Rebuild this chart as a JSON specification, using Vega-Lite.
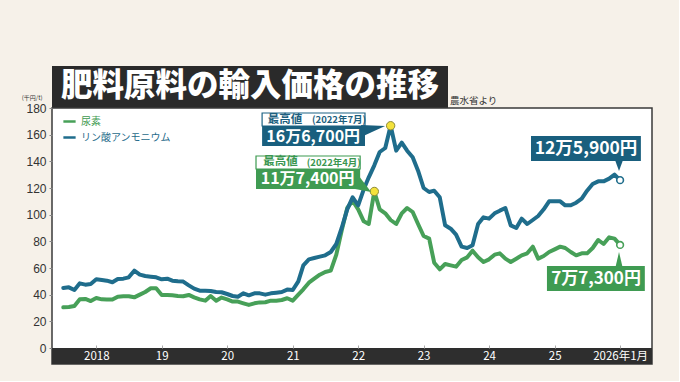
{
  "$schema": "https://vega.github.io/schema/vega-lite/v6.json",
  "background": "#f6f1e9",
  "padding": {"left": 20, "top": 66, "right": 26, "bottom": 16},
  "bounds": "flush",
  "spacing": 0,
  "config": {"font": "Noto Sans CJK JP", "axis": {"labelOverlap": false}, "axisY": {"labelOverlap": false, "labelSeparation": -40, "labelBound": false}},
  "resolve": {"scale": {"color": "independent", "stroke": "independent"}, "legend": {"color": "independent", "stroke": "independent"}},
  "vconcat": [
    {
      "width": 396,
      "height": 42,
      "view": {"fill": "#2a2a2a", "stroke": null},
      "data": {"values": [{}]},
      "layer": [
        {
          "mark": {"type": "text", "text": "肥料原料の輸入価格の推移", "color": "white", "font": "Noto Sans CJK JP", "fontSize": 31.5, "fontWeight": 900, "align": "center", "baseline": "middle"}
        },
        {
          "mark": {"type": "text", "text": "農水省より", "color": "#333333", "font": "Noto Sans CJK JP", "fontSize": 9.5, "align": "left", "baseline": "middle"},
          "encoding": {
            "x": {"datum": 398, "type": "quantitative", "scale": {"domain": [0, 396], "nice": false, "zero": false}, "axis": null},
            "y": {"datum": 7, "type": "quantitative", "scale": {"domain": [0, 42], "nice": false}, "axis": null}
          }
        }
      ]
    },
    {
      "width": 600,
      "height": 256,
      "view": {"fill": "white", "stroke": "#3a3a3a", "strokeWidth": 1.5},
      "data": {"values": [
        {"date": "2017-07-01", "尿素": 30.5, "リン酸アンモニウム": 45},
        {"date": "2017-08-01", "尿素": 30.8, "リン酸アンモニウム": 45.5},
        {"date": "2017-09-01", "尿素": 31.5, "リン酸アンモニウム": 43.5},
        {"date": "2017-10-01", "尿素": 36.5, "リン酸アンモニウム": 48.5},
        {"date": "2017-11-01", "尿素": 36.8, "リン酸アンモニウム": 47.5},
        {"date": "2017-12-01", "尿素": 35.2, "リン酸アンモニウム": 48},
        {"date": "2018-01-01", "尿素": 37.5, "リン酸アンモニウム": 51.5},
        {"date": "2018-02-01", "尿素": 36.5, "リン酸アンモニウム": 51},
        {"date": "2018-03-01", "尿素": 36.3, "リン酸アンモニウム": 50.5},
        {"date": "2018-04-01", "尿素": 36.3, "リン酸アンモニウム": 49.3},
        {"date": "2018-05-01", "尿素": 38.5, "リン酸アンモニウム": 51.8},
        {"date": "2018-06-01", "尿素": 38.8, "リン酸アンモニウム": 52},
        {"date": "2018-07-01", "尿素": 38.8, "リン酸アンモニウム": 53},
        {"date": "2018-08-01", "尿素": 38, "リン酸アンモニウム": 58},
        {"date": "2018-09-01", "尿素": 40, "リン酸アンモニウム": 55},
        {"date": "2018-10-01", "尿素": 42, "リン酸アンモニウム": 54},
        {"date": "2018-11-01", "尿素": 44.8, "リン酸アンモニウム": 53.5},
        {"date": "2018-12-01", "尿素": 44.8, "リン酸アンモニウム": 53},
        {"date": "2019-01-01", "尿素": 39.8, "リン酸アンモニウム": 51.5},
        {"date": "2019-02-01", "尿素": 39.8, "リン酸アンモニウム": 52},
        {"date": "2019-03-01", "尿素": 39.5, "リン酸アンモニウム": 50.5},
        {"date": "2019-04-01", "尿素": 39, "リン酸アンモニウム": 50},
        {"date": "2019-05-01", "尿素": 38.8, "リン酸アンモニウム": 49.8},
        {"date": "2019-06-01", "尿素": 39.8, "リン酸アンモニウム": 47},
        {"date": "2019-07-01", "尿素": 38, "リン酸アンモニウム": 44.5},
        {"date": "2019-08-01", "尿素": 36.5, "リン酸アンモニウム": 43},
        {"date": "2019-09-01", "尿素": 35.5, "リン酸アンモニウム": 43},
        {"date": "2019-10-01", "尿素": 39, "リン酸アンモニウム": 42.7},
        {"date": "2019-11-01", "尿素": 35.5, "リン酸アンモニウム": 42},
        {"date": "2019-12-01", "尿素": 37.8, "リン酸アンモニウム": 41.8},
        {"date": "2020-01-01", "尿素": 36.5, "リン酸アンモニウム": 40.5},
        {"date": "2020-02-01", "尿素": 34.8, "リン酸アンモニウム": 39},
        {"date": "2020-03-01", "尿素": 34.8, "リン酸アンモニウム": 38.5},
        {"date": "2020-04-01", "尿素": 33.5, "リン酸アンモニウム": 41},
        {"date": "2020-05-01", "尿素": 32.3, "リン酸アンモニウム": 39.5},
        {"date": "2020-06-01", "尿素": 33.5, "リン酸アンモニウム": 41},
        {"date": "2020-07-01", "尿素": 34.2, "リン酸アンモニウム": 41},
        {"date": "2020-08-01", "尿素": 34.3, "リン酸アンモニウム": 40},
        {"date": "2020-09-01", "尿素": 35.5, "リン酸アンモニウム": 41},
        {"date": "2020-10-01", "尿素": 35.5, "リン酸アンモニウム": 41.5},
        {"date": "2020-11-01", "尿素": 36, "リン酸アンモニウム": 42},
        {"date": "2020-12-01", "尿素": 37.3, "リン酸アンモニウム": 43.8},
        {"date": "2021-01-01", "尿素": 35.5, "リン酸アンモニウム": 43.5},
        {"date": "2021-02-01", "尿素": 40, "リン酸アンモニウム": 50},
        {"date": "2021-03-01", "尿素": 44, "リン酸アンモニウム": 62},
        {"date": "2021-04-01", "尿素": 49, "リン酸アンモニウム": 66.5},
        {"date": "2021-05-01", "尿素": 52, "リン酸アンモニウム": 67.5},
        {"date": "2021-06-01", "尿素": 55, "リン酸アンモニウム": 68.5},
        {"date": "2021-07-01", "尿素": 57, "リン酸アンモニウム": 69.5},
        {"date": "2021-08-01", "尿素": 58, "リン酸アンモニウム": 72},
        {"date": "2021-09-01", "尿素": 70, "リン酸アンモニウム": 78},
        {"date": "2021-10-01", "尿素": 88, "リン酸アンモニウム": 90},
        {"date": "2021-11-01", "尿素": 105, "リン酸アンモニウム": 104},
        {"date": "2021-12-01", "尿素": 110.5, "リン酸アンモニウム": 113},
        {"date": "2022-01-01", "尿素": 104, "リン酸アンモニウム": 107},
        {"date": "2022-02-01", "尿素": 95, "リン酸アンモニウム": 119},
        {"date": "2022-03-01", "尿素": 93, "リン酸アンモニウム": 128},
        {"date": "2022-04-01", "尿素": 117.4, "リン酸アンモニウム": 137},
        {"date": "2022-05-01", "尿素": 104, "リン酸アンモニウム": 147},
        {"date": "2022-06-01", "尿素": 101, "リン酸アンモニウム": 150},
        {"date": "2022-07-01", "尿素": 96, "リン酸アンモニウム": 166.7},
        {"date": "2022-08-01", "尿素": 93, "リン酸アンモニウム": 148},
        {"date": "2022-09-01", "尿素": 101, "リン酸アンモニウム": 154},
        {"date": "2022-10-01", "尿素": 105, "リン酸アンモニウム": 148},
        {"date": "2022-11-01", "尿素": 102, "リン酸アンモニウム": 143},
        {"date": "2022-12-01", "尿素": 93, "リン酸アンモニウム": 133},
        {"date": "2023-01-01", "尿素": 84, "リン酸アンモニウム": 120},
        {"date": "2023-02-01", "尿素": 82, "リン酸アンモニウム": 117},
        {"date": "2023-03-01", "尿素": 64, "リン酸アンモニウム": 118},
        {"date": "2023-04-01", "尿素": 59, "リン酸アンモニウム": 113},
        {"date": "2023-05-01", "尿素": 63, "リン酸アンモニウム": 92},
        {"date": "2023-06-01", "尿素": 62, "リン酸アンモニウム": 89.5},
        {"date": "2023-07-01", "尿素": 61, "リン酸アンモニウム": 85},
        {"date": "2023-08-01", "尿素": 66, "リン酸アンモニウム": 76},
        {"date": "2023-09-01", "尿素": 68, "リン酸アンモニウム": 75},
        {"date": "2023-10-01", "尿素": 73, "リン酸アンモニウム": 77},
        {"date": "2023-11-01", "尿素": 68, "リン酸アンモニウム": 93},
        {"date": "2023-12-01", "尿素": 64.5, "リン酸アンモニウム": 98},
        {"date": "2024-01-01", "尿素": 66.5, "リン酸アンモニウム": 97},
        {"date": "2024-02-01", "尿素": 70, "リン酸アンモニウム": 101},
        {"date": "2024-03-01", "尿素": 71, "リン酸アンモニウム": 103},
        {"date": "2024-04-01", "尿素": 67, "リン酸アンモニウム": 105},
        {"date": "2024-05-01", "尿素": 64.5, "リン酸アンモニウム": 92},
        {"date": "2024-06-01", "尿素": 67, "リン酸アンモニウム": 90},
        {"date": "2024-07-01", "尿素": 69.5, "リン酸アンモニウム": 97},
        {"date": "2024-08-01", "尿素": 71, "リン酸アンモニウム": 93},
        {"date": "2024-09-01", "尿素": 76, "リン酸アンモニウム": 96},
        {"date": "2024-10-01", "尿素": 67, "リン酸アンモニウム": 99},
        {"date": "2024-11-01", "尿素": 69, "リン酸アンモニウム": 104},
        {"date": "2024-12-01", "尿素": 72, "リン酸アンモニウム": 110},
        {"date": "2025-01-01", "尿素": 74, "リン酸アンモニウム": 110},
        {"date": "2025-02-01", "尿素": 76, "リン酸アンモニウム": 110},
        {"date": "2025-03-01", "尿素": 75, "リン酸アンモニウム": 107},
        {"date": "2025-04-01", "尿素": 72, "リン酸アンモニウム": 107},
        {"date": "2025-05-01", "尿素": 69.5, "リン酸アンモニウム": 109},
        {"date": "2025-06-01", "尿素": 71, "リン酸アンモニウム": 112},
        {"date": "2025-07-01", "尿素": 71, "リン酸アンモニウム": 118},
        {"date": "2025-08-01", "尿素": 75, "リン酸アンモニウム": 123},
        {"date": "2025-09-01", "尿素": 81, "リン酸アンモニウム": 125},
        {"date": "2025-10-01", "尿素": 78, "リン酸アンモニウム": 125},
        {"date": "2025-11-01", "尿素": 83, "リン酸アンモニウム": 127},
        {"date": "2025-12-01", "尿素": 82, "リン酸アンモニウム": 130},
        {"date": "2026-01-01", "尿素": 77.3, "リン酸アンモニウム": 125.9}
      ]},
      "layer": [
        {
          "data": {"values": [{}]},
          "mark": {"type": "rect", "color": "#2e2e2e"},
          "encoding": {
            "y": {"datum": -12, "type": "quantitative"},
            "y2": {"datum": 0}
          }
        },
        {
          "transform": [{"fold": ["尿素", "リン酸アンモニウム"], "as": ["series", "value"]}],
          "mark": {"type": "line", "strokeWidth": 4, "strokeJoin": "round", "strokeCap": "round"},
          "encoding": {
            "x": {
              "field": "date", "type": "temporal",
              "scale": {"domain": [{"year": 2017, "month": 4, "date": 29, "utc": true}, {"year": 2026, "month": 6, "date": 28, "utc": true}], "nice": false},
              "axis": {
                "title": null, "orient": "bottom", "offset": -16, "domain": false, "grid": false, "zindex": 2,
                "ticks": true, "tickSize": -3, "tickColor": "#aaaaaa", "tickWidth": 1,
                "tickCount": {"interval": "year", "step": 1},
                "labelExpr": "year(datum.value) == 2018 ? '2018' : year(datum.value) == 2026 ? '2026年1月' : timeFormat(datum.value, '%y')",
                "labelColor": "white", "labelFont": "Noto Sans CJK JP", "labelFontSize": 11.5,
                "labelPadding": 11, "labelBaseline": "middle", "labelFlush": false, "labelOverlap": false
              }
            },
            "y": {
              "field": "value", "type": "quantitative",
              "scale": {"domain": [-12, 180], "nice": false, "zero": false},
              "axis": {
                "title": "(千円/t)", "titleAngle": 0, "titleX": -10, "titleY": -10.5,
                "titleAlign": "right", "titleBaseline": "middle", "titleFontSize": 6,
                "titleFontWeight": "normal", "titleFont": "Noto Sans CJK JP", "titleColor": "#333333",
                "values": [0, 20, 40, 60, 80, 100, 120, 140, 160, 180], "tickCount": 10,
                "labelOverlap": false, "labelSeparation": -40, "labelBound": false,
                "domain": false, "grid": false, "tickSize": 3, "tickColor": "#888888",
                "labelPadding": 3, "labelFontSize": 12, "labelColor": "#333333", "labelFont": "Liberation Sans"
              }
            },
            "color": {
              "field": "series", "type": "nominal",
              "scale": {"domain": ["尿素", "リン酸アンモニウム"], "range": ["#47a058", "#1f6d8c"]},
              "legend": {
                "title": null, "orient": "top-left", "offset": 6, "padding": 0,
                "symbolType": "stroke", "symbolStrokeWidth": 2.5, "symbolSize": 150, "symbolOffset": 4,
                "labelFont": "Noto Sans CJK JP", "labelFontSize": 10, "labelOffset": 4, "rowPadding": 3,
                "labelColor": {"expr": "datum.label === '尿素' ? '#3d9a50' : '#1f6b8a'"}
              }
            }
          }
        },
        {
          "data": {"values": [{"date": "2022-07-01", "value": 166.7}, {"date": "2022-04-01", "value": 117.4}]},
          "mark": {"type": "point", "shape": "circle", "filled": true, "fill": "#f4e23c", "stroke": "#8c8a3a", "strokeWidth": 1, "size": 70, "opacity": 1},
          "encoding": {
            "x": {"field": "date", "type": "temporal"},
            "y": {"field": "value", "type": "quantitative"}
          }
        },
        {
          "data": {"values": [{"date": "2026-01-01", "value": 125.9, "series": "リン酸アンモニウム"}, {"date": "2026-01-01", "value": 77.3, "series": "尿素"}]},
          "mark": {"type": "point", "shape": "circle", "filled": true, "fill": "white", "strokeWidth": 1.6, "size": 45, "opacity": 1},
          "encoding": {
            "x": {"field": "date", "type": "temporal"},
            "y": {"field": "value", "type": "quantitative"},
            "stroke": {"field": "series", "type": "nominal", "scale": {"domain": ["尿素", "リン酸アンモニウム"], "range": ["#47a058", "#1f6d8c"]}, "legend": null}
          }
        },
        {
          "data": {"values": [{}]},
          "mark": {"type": "rect", "fill": "white", "stroke": "#1d6384", "strokeWidth": 1.2},
          "encoding": {
            "x": {"datum": {"year": 2020, "month": 7, "date": 14, "utc": true}, "type": "temporal"},
            "x2": {"datum": {"year": 2022, "month": 2, "date": 8, "utc": true}},
            "y": {"datum": 176.25, "type": "quantitative"},
            "y2": {"datum": 166.5}
          }
        },
        {
          "data": {"values": [{}]},
          "mark": {"type": "rect", "fill": "#195f7e"},
          "encoding": {
            "x": {"datum": {"year": 2020, "month": 7, "date": 14, "utc": true}, "type": "temporal"},
            "x2": {"datum": {"year": 2022, "month": 2, "date": 8, "utc": true}},
            "y": {"datum": 166.5, "type": "quantitative"},
            "y2": {"datum": 151.5}
          }
        },
        {
          "data": {"values": [{}]},
          "mark": {"type": "point", "shape": "M-0.8,-0.4L1.6,-0.3L-0.8,0.8Z", "size": 400, "filled": true, "fill": "#195f7e", "strokeWidth": 0, "opacity": 1},
          "encoding": {
            "x": {"datum": {"year": 2022, "month": 3, "date": 3, "utc": true}, "type": "temporal"},
            "y": {"datum": 164.25, "type": "quantitative"}
          }
        },
        {
          "data": {"values": [{}]},
          "mark": {"type": "rect", "fill": "white", "stroke": "#3d9a50", "strokeWidth": 1.2},
          "encoding": {
            "x": {"datum": {"year": 2020, "month": 6, "date": 10, "utc": true}, "type": "temporal"},
            "x2": {"datum": {"year": 2022, "month": 1, "date": 12, "utc": true}},
            "y": {"datum": 144, "type": "quantitative"},
            "y2": {"datum": 134.25}
          }
        },
        {
          "data": {"values": [{}]},
          "mark": {"type": "rect", "fill": "#3f9b52"},
          "encoding": {
            "x": {"datum": {"year": 2020, "month": 6, "date": 10, "utc": true}, "type": "temporal"},
            "x2": {"datum": {"year": 2022, "month": 1, "date": 12, "utc": true}},
            "y": {"datum": 134.25, "type": "quantitative"},
            "y2": {"datum": 119.25}
          }
        },
        {
          "data": {"values": [{}]},
          "mark": {"type": "point", "shape": "M-0.9,-1L0.7,1.1L-0.9,0.8Z", "size": 400, "filled": true, "fill": "#3f9b52", "strokeWidth": 0, "opacity": 1},
          "encoding": {
            "x": {"datum": {"year": 2022, "month": 2, "date": 3, "utc": true}, "type": "temporal"},
            "y": {"datum": 125.25, "type": "quantitative"}
          }
        },
        {
          "data": {"values": [{}]},
          "mark": {"type": "rect", "fill": "#195f7e"},
          "encoding": {
            "x": {"datum": {"year": 2024, "month": 8, "date": 22, "utc": true}, "type": "temporal"},
            "x2": {"datum": {"year": 2026, "month": 4, "date": 27, "utc": true}},
            "y": {"datum": 159, "type": "quantitative"},
            "y2": {"datum": 140.25}
          }
        },
        {
          "data": {"values": [{}]},
          "mark": {"type": "point", "shape": "M-0.4,-0.6L0.4,-0.6L0,0.5Z", "size": 400, "filled": true, "fill": "#195f7e", "strokeWidth": 0, "opacity": 1},
          "encoding": {
            "x": {"datum": {"year": 2025, "month": 12, "date": 26, "utc": true}, "type": "temporal"},
            "y": {"datum": 136.5, "type": "quantitative"}
          }
        },
        {
          "data": {"values": [{}]},
          "mark": {"type": "rect", "fill": "#3f9b52"},
          "encoding": {
            "x": {"datum": {"year": 2024, "month": 11, "date": 19, "utc": true}, "type": "temporal"},
            "x2": {"datum": {"year": 2026, "month": 5, "date": 19, "utc": true}},
            "y": {"datum": 61.5, "type": "quantitative"},
            "y2": {"datum": 42.75}
          }
        },
        {
          "data": {"values": [{}]},
          "mark": {"type": "point", "shape": "M-0.35,0.8L0.35,0.8L0,-0.7Z", "size": 400, "filled": true, "fill": "#3f9b52", "strokeWidth": 0, "opacity": 1},
          "encoding": {
            "x": {"datum": {"year": 2025, "month": 12, "date": 26, "utc": true}, "type": "temporal"},
            "y": {"datum": 66.75, "type": "quantitative"}
          }
        },
        {
          "data": {"values": [{}]},
          "mark": {"type": "text", "text": "最高値", "font": "Noto Sans CJK JP", "fontWeight": "bold", "fontSize": 11.5, "color": "#1d5f7e", "align": "left", "baseline": "middle"},
          "encoding": {
            "x": {"datum": {"year": 2020, "month": 8, "date": 15, "utc": true}, "type": "temporal"},
            "y": {"datum": 171.2, "type": "quantitative"}
          }
        },
        {
          "data": {"values": [{}]},
          "mark": {"type": "text", "text": "(2022年7月)", "font": "Noto Sans CJK JP", "fontWeight": "bold", "fontSize": 9.5, "color": "#1d5f7e", "align": "left", "baseline": "middle"},
          "encoding": {
            "x": {"datum": {"year": 2021, "month": 4, "date": 18, "utc": true}, "type": "temporal"},
            "y": {"datum": 170.8, "type": "quantitative"}
          }
        },
        {
          "data": {"values": [{}]},
          "mark": {"type": "text", "text": "16万6,700円", "font": "Noto Sans CJK JP", "fontWeight": "bold", "fontSize": 16, "color": "white", "align": "center", "baseline": "middle"},
          "encoding": {
            "x": {"datum": {"year": 2021, "month": 4, "date": 25, "utc": true}, "type": "temporal"},
            "y": {"datum": 158.5, "type": "quantitative"}
          }
        },
        {
          "data": {"values": [{}]},
          "mark": {"type": "text", "text": "最高値", "font": "Noto Sans CJK JP", "fontWeight": "bold", "fontSize": 11.5, "color": "#3a9650", "align": "left", "baseline": "middle"},
          "encoding": {
            "x": {"datum": {"year": 2020, "month": 7, "date": 20, "utc": true}, "type": "temporal"},
            "y": {"datum": 139.3, "type": "quantitative"}
          }
        },
        {
          "data": {"values": [{}]},
          "mark": {"type": "text", "text": "(2022年4月)", "font": "Noto Sans CJK JP", "fontWeight": "bold", "fontSize": 9.5, "color": "#3a9650", "align": "left", "baseline": "middle"},
          "encoding": {
            "x": {"datum": {"year": 2021, "month": 3, "date": 20, "utc": true}, "type": "temporal"},
            "y": {"datum": 138.9, "type": "quantitative"}
          }
        },
        {
          "data": {"values": [{}]},
          "mark": {"type": "text", "text": "11万7,400円", "font": "Noto Sans CJK JP", "fontWeight": "bold", "fontSize": 16, "color": "white", "align": "center", "baseline": "middle"},
          "encoding": {
            "x": {"datum": {"year": 2021, "month": 3, "date": 25, "utc": true}, "type": "temporal"},
            "y": {"datum": 126.4, "type": "quantitative"}
          }
        },
        {
          "data": {"values": [{}]},
          "mark": {"type": "text", "text": "12万5,900円", "font": "Noto Sans CJK JP", "fontWeight": "bold", "fontSize": 17.5, "color": "white", "align": "center", "baseline": "middle"},
          "encoding": {
            "x": {"datum": {"year": 2025, "month": 6, "date": 25, "utc": true}, "type": "temporal"},
            "y": {"datum": 149.6, "type": "quantitative"}
          }
        },
        {
          "data": {"values": [{}]},
          "mark": {"type": "text", "text": "7万7,300円", "font": "Noto Sans CJK JP", "fontWeight": "bold", "fontSize": 17, "color": "white", "align": "center", "baseline": "middle"},
          "encoding": {
            "x": {"datum": {"year": 2025, "month": 8, "date": 20, "utc": true}, "type": "temporal"},
            "y": {"datum": 52.1, "type": "quantitative"}
          }
        }
      ]
    }
  ]
}
